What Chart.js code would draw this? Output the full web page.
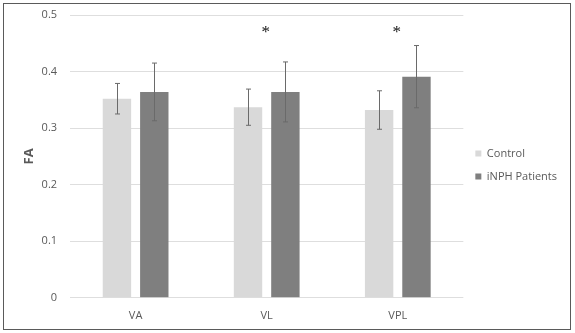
<!DOCTYPE html>
<html>
<head>
<meta charset="utf-8">
<script src="https://cdn.jsdelivr.net/npm/chart.js@4/dist/chart.umd.min.js"></script>
<style>
  html, body { margin: 0; padding: 0; background: #fff; }
  #wrap { position: relative; width: 575px; height: 333px; }
  #c { position: absolute; left: 0; top: 0; }
  #frame { position: absolute; left: 3px; top: 3px; width: 566px; height: 325px; border: 1.5px solid #5a5a5a; pointer-events: none; }
</style>
</head>
<body>
<div id="wrap">
  <canvas id="c" width="575" height="333"></canvas>
  <div id="frame"></div>
</div>
<script>
const categories = ["VA", "VL", "VPL"];
const controlValues = [0.352, 0.337, 0.332];
const controlErrors = [0.027, 0.032, 0.034];
const inphValues = [0.364, 0.364, 0.391];
const inphErrors = [0.051, 0.053, 0.055];
const significance = ["", "*", "*"];
const yTicks = [0, 0.1, 0.2, 0.3, 0.4, 0.5];

const errorBarPlugin = {
  id: 'errorBars',
  afterDatasetsDraw(chart) {
    const ctx = chart.ctx;
    const yScale = chart.scales.y;
    ctx.save();
    ctx.strokeStyle = '#6a6a6a';
    ctx.lineWidth = 1;
    chart.data.datasets.forEach((ds, di) => {
      const meta = chart.getDatasetMeta(di);
      meta.data.forEach((bar, i) => {
        const v = ds.data[i], e = ds.errors[i];
        const x = Math.round(bar.x) + 0.5;
        const yt = yScale.getPixelForValue(v + e);
        const yb = yScale.getPixelForValue(v - e);
        ctx.beginPath();
        ctx.moveTo(x, yt); ctx.lineTo(x, yb);
        ctx.moveTo(x - 2.5, yt); ctx.lineTo(x + 2.5, yt);
        ctx.moveTo(x - 2.5, yb); ctx.lineTo(x + 2.5, yb);
        ctx.stroke();
      });
    });
    ctx.fillStyle = '#111';
    ctx.font = '17px "Liberation Serif"';
    ctx.textAlign = 'center';
    ctx.textBaseline = 'middle';
    significance.forEach((s, i) => {
      if (!s) return;
      const x = chart.scales.x.getPixelForValue(i);
      const y = yScale.getPixelForValue(0.475);
      ctx.fillText(s, x - 1, y + 3);
    });
    ctx.restore();
  }
};

new Chart(document.getElementById('c'), {
  type: 'bar',
  data: {
    labels: categories,
    datasets: [
      { label: 'Control', data: controlValues, errors: controlErrors, backgroundColor: '#d9d9d9',
        categoryPercentage: 0.57, barPercentage: 0.76 },
      { label: 'iNPH Patients', data: inphValues, errors: inphErrors, backgroundColor: '#7f7f7f',
        categoryPercentage: 0.57, barPercentage: 0.76 }
    ]
  },
  options: {
    responsive: false,
    animation: false,
    layout: { padding: { left: 20, right: 8, top: 5, bottom: 8 } },
    plugins: {
      legend: {
        position: 'right',
        align: 'center',
        labels: {
          boxWidth: 6, boxHeight: 6, padding: 12,
          color: '#595959',
          font: { family: 'Open Sans', size: 11 }
        }
      },
      tooltip: { enabled: false }
    },
    scales: {
      x: {
        grid: { display: false },
        border: { display: false },
        ticks: { color: '#595959', font: { family: 'Open Sans', size: 11 }, padding: 3 }
      },
      y: {
        min: 0, max: 0.5,
        afterBuildTicks(axis) { axis.ticks = yTicks.map(v => ({ value: v })); },
        afterFit(axis) { axis.paddingTop = 15; },
        grid: { color: '#dedede', lineWidth: 1, drawTicks: false },
        border: { display: false },
        ticks: { color: '#595959', font: { family: 'Open Sans', size: 11 }, padding: 13,
                 callback: v => String(v) },
        title: { display: true, text: 'FA', color: '#595959', font: { family: 'Open Sans', size: 13, weight: 'bold' }, padding: { top: 1, bottom: -8 } }
      }
    }
  },
  plugins: [errorBarPlugin]
});
</script>
</body>
</html>
